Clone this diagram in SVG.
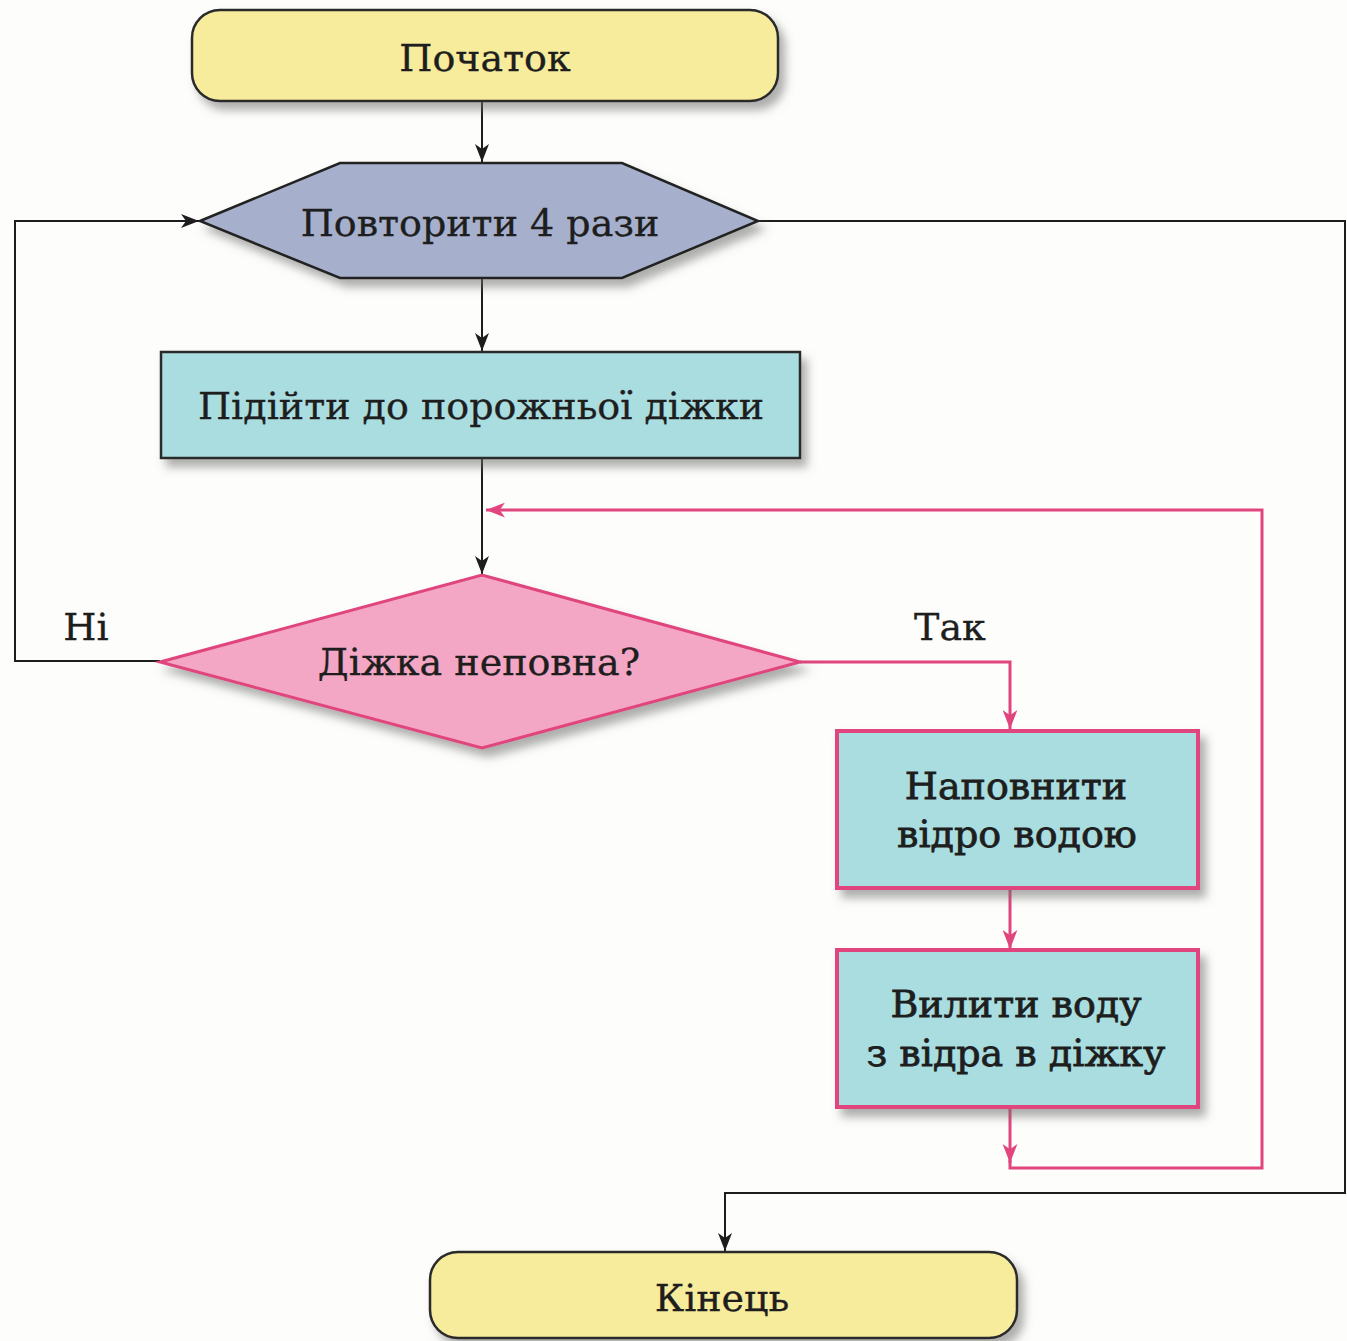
<svg xmlns="http://www.w3.org/2000/svg" width="1347" height="1341" viewBox="0 0 1347 1341">
  <defs>
    <filter id="shadow" x="-10%" y="-20%" width="125%" height="150%">
      <feDropShadow dx="6" dy="8" stdDeviation="5" flood-color="#6d6d6d" flood-opacity="0.55"/>
    </filter>
    <marker id="arrBlack" viewBox="0 0 18 14" refX="18" refY="7" markerWidth="18" markerHeight="14" markerUnits="userSpaceOnUse" orient="auto">
      <path d="M0,0 L18,7 L0,14 L5,7 z" fill="#1d1d1d"/>
    </marker>
    <marker id="arrPink" viewBox="0 0 18 14" refX="18" refY="7" markerWidth="19" markerHeight="15" markerUnits="userSpaceOnUse" orient="auto">
      <path d="M0,0 L18,7 L0,14 L5,7 z" fill="#e0457d"/>
    </marker>
  </defs>
  <style>
    .txt { font-family: "DejaVu Serif", "Liberation Serif", serif; font-size: 38px; fill: #1e1e1e; text-anchor: middle; stroke: #1e1e1e; stroke-width: 0.35px; }
    .bold { stroke-width: 0.8px; }
    .terminal { fill: #f6ec9c; stroke: #2a2a2a; stroke-width: 2.5; }
    .loop { fill: #a6b0cc; stroke: #222; stroke-width: 2.5; }
    .proc { fill: #a9dde0; stroke: #2a2a2a; stroke-width: 2.5; }
    .procPink { fill: #a9dde0; stroke: #e0457d; stroke-width: 4; }
    .decision { fill: #f3a7c4; stroke: #e0457d; stroke-width: 3; }
    .black { fill: none; stroke: #1d1d1d; stroke-width: 2; }
    .pink { fill: none; stroke: #e0457d; stroke-width: 3; }
  </style>
  <rect width="1347" height="1341" fill="#fdfdfb"/>

  <g id="connectors">
    <path class="black" d="M482,101 V162" marker-end="url(#arrBlack)"/>
    <path class="black" d="M482,278 V351" marker-end="url(#arrBlack)"/>
    <path class="black" d="M482,458 V574" marker-end="url(#arrBlack)"/>
    <path class="black" d="M160,661 H15 V221 H199" marker-end="url(#arrBlack)"/>
    <path class="black" d="M758,221 H1345 V1193 H725 V1251" marker-end="url(#arrBlack)"/>
    <path class="pink" d="M800,662 H1010 V729" marker-end="url(#arrPink)"/>
    <path class="pink" d="M1010,888 V949" marker-end="url(#arrPink)"/>
    <path class="pink" d="M1010,1107 V1163" marker-end="url(#arrPink)"/>
    <path class="pink" d="M1010,1160 V1168 H1262 V510 H486" marker-end="url(#arrPink)"/>
  </g>

  <g id="start">
    <rect class="terminal" x="192" y="10" width="586" height="91" rx="28" filter="url(#shadow)"/>
    <text class="txt" x="485" y="71">Початок</text>
  </g>

  <g id="repeat">
    <polygon class="loop" points="200,221 340,163 622,163 758,221 622,278 340,278" filter="url(#shadow)"/>
    <text class="txt" x="480" y="236">Повторити 4 рази</text>
  </g>

  <g id="approach">
    <rect class="proc" x="161" y="352" width="639" height="106" filter="url(#shadow)"/>
    <text class="txt" x="481" y="419">Підійти до порожньої діжки</text>
  </g>

  <g id="condition">
    <polygon class="decision" points="160,662 482,575 800,662 482,748" filter="url(#shadow)"/>
    <text class="txt" x="479" y="675">Діжка неповна?</text>
  </g>

  <g id="labels">
    <text class="txt" x="86" y="640">Ні</text>
    <text class="txt" x="950" y="640">Так</text>
  </g>

  <g id="fill">
    <rect class="procPink" x="837" y="731" width="361" height="157" filter="url(#shadow)"/>
    <text class="txt bold" x="1016" y="799">Наповнити</text>
    <text class="txt bold" x="1017" y="847">відро водою</text>
  </g>

  <g id="pour">
    <rect class="procPink" x="837" y="950" width="361" height="157" filter="url(#shadow)"/>
    <text class="txt bold" x="1016" y="1017">Вилити воду</text>
    <text class="txt bold" x="1016" y="1066">з відра в діжку</text>
  </g>

  <g id="end">
    <rect class="terminal" x="430" y="1252" width="587" height="86" rx="28" filter="url(#shadow)"/>
    <text class="txt" x="722" y="1311">Кінець</text>
  </g>
</svg>
